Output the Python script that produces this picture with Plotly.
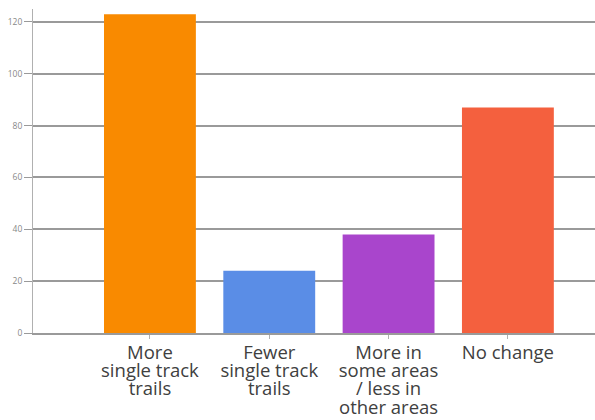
import plotly.graph_objects as go

# data
categories = [
    ["More", "single track", "trails"],
    ["Fewer", "single track", "trails"],
    ["More in", "some areas", "/ less in", "other areas"],
    ["No change"],
]
values = [123, 24, 38, 87]
colors = ["#F98A00", "#5A8DE6", "#A945CC", "#F4603E"]
y_ticks = [0, 20, 40, 60, 80, 100, 120]

# big glyphs but tight line spacing: line spacing follows the tickfont size,
# the span sets the glyph size
tick_text = [
    "<br>".join('<span style="font-size:18.5px">%s</span>' % ln for ln in lines)
    for lines in categories
]

fig = go.Figure()

fig.add_trace(
    go.Bar(
        x=list(range(len(categories))),
        y=values,
        width=0.77,
        marker=dict(color=colors, line=dict(width=0)),
        hoverinfo="y",
    )
)

fig.update_xaxes(
    tickmode="array",
    tickvals=list(range(len(categories))),
    ticktext=tick_text,
    range=[-0.98, 3.73],
    showgrid=False,
    showline=True,
    linecolor="#9a9a9a",
    linewidth=1.5,
    ticks="outside",
    ticklen=4,
    tickcolor="#b0b0b0",
    ticklabelstandoff=3,
    tickfont=dict(family="Open Sans", size=14.1, color="#404040"),
)

fig.update_yaxes(
    range=[0, 125],
    tickvals=y_ticks,
    showgrid=True,
    gridcolor="#9a9a9a",
    gridwidth=1.5,
    showline=True,
    linecolor="#b0b0b0",
    linewidth=1,
    ticks="outside",
    ticklen=8,
    tickcolor="#9a9a9a",
    tickfont=dict(family="Open Sans", size=8.5, color="#888888"),
    zeroline=False,
)

fig.update_layout(
    width=595,
    height=420,
    margin={"l": 33, "r": 0, "t": 9, "b": 87},
    plot_bgcolor="white",
    paper_bgcolor="white",
    showlegend=False,
)

# drop the browser's default body margin so the figure fills the window
fig.write_html(
    "out.html",
    config={"displayModeBar": False},
    post_script="document.body.style.margin='0';",
)
